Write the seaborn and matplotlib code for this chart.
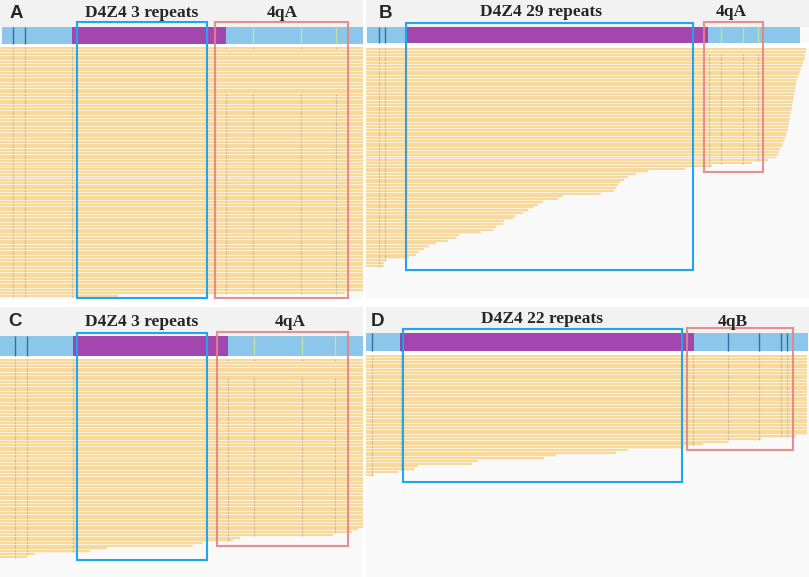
import pandas as pd
import matplotlib.pyplot as plt
import seaborn as sns
from matplotlib.patches import Rectangle

# ---- data: read end positions (panel-local position units), one per read row ----
a_read_end = [
    363, 363, 363, 363, 363, 363, 363, 363, 363, 363,
    363, 363, 363, 363, 363, 363, 363, 363, 363, 363,
    363, 363, 363, 363, 363, 363, 363, 363, 363, 363,
    363, 363, 363, 363, 363, 363, 363, 363, 363, 363,
    363, 363, 363, 363, 363, 363, 363, 363, 363, 363,
    363, 363, 363, 363, 363, 363, 363, 363, 363, 363,
    363, 363, 363, 363, 363, 363, 363, 363, 363, 363,
    363, 363, 363, 363, 363, 363, 363, 363, 363, 363,
    363, 363, 363, 363, 363, 363, 363, 363, 363, 345,
    118,
]
b_read_end = [
    440, 440, 439, 439, 438, 437,
    436, 435, 434, 433, 432,
    431, 430, 430, 429, 429, 428, 428, 427, 427, 426,
    426, 425, 425, 424, 424, 423, 423, 422, 422, 421,
    420, 419, 418, 417, 416, 414, 413, 412,
    410, 402, 386, 346, 319, 282,
    270, 262, 258, 254, 252, 250, 248,
    235, 197, 192, 177, 172, 168, 162, 157, 150, 147,
    138, 137, 130, 127, 115, 93, 90, 82, 70, 63,
    58, 53, 50, 43, 20, 18, 18,
]
c_read_end = [
    363, 363, 363, 363, 363, 363, 363, 363, 363, 363,
    363, 363, 363, 363, 363, 363, 363, 363, 363, 363,
    363, 363, 363, 363, 363, 363, 363, 363, 363, 363,
    363, 363, 363, 363, 363, 363, 363, 363, 363, 363,
    363, 363, 363, 363, 363, 363, 363, 363, 363, 363,
    363, 363, 363, 363, 363, 363, 363, 363, 363, 363,
    363, 363,
    358, 352, 333, 240, 233, 203, 193, 107, 90, 35, 27,
]
d_read_end = [
    441, 441, 441, 441, 441, 441, 441, 441, 441, 441,
    441, 441, 441, 441, 441, 441, 441, 441, 441, 441,
    441, 441, 441, 441, 441, 441, 441, 441, 441,
    430, 395, 362, 337, 318, 262, 250, 190, 178, 112,
    106, 52, 48, 32, 8,
]

# reference track: extent, D4Z4 array, variant sites
a_track = (2, 363); a_repeat = (72, 226); a_dark = [13, 25]; a_light = [253, 301, 336]
b_track = (1, 434); b_repeat = (39, 342); b_dark = [13, 19]; b_light = [355, 377, 392]
c_track = (0, 363); c_repeat = (73, 228); c_dark = [15, 27]; c_light = [254, 302, 335]
d_track = (0, 442); d_repeat = (34, 328); d_dark = [6, 35, 362, 393, 415, 421]; d_light = []

# mismatch sites in reads (proximal / distal), rows lacking distal calls
a_snp_left = [13, 25, 72]; a_snp_right = [226, 253, 301, 336]; a_skip = (1, 16)
b_snp_left = [13, 19, 40]; b_snp_right = [343, 355, 377, 392]; b_skip = (0, 1)
c_snp_left = [15, 27, 73]; c_snp_right = [228, 254, 302, 335]; c_skip = (1, 6)
d_snp_left = [6, 35]; d_snp_right = [327, 362, 393, 415, 421]; d_skip = (-1, -1)

# highlighted regions
a_blue = (77, 207); a_red = (215, 348)
b_blue = (40, 327); b_red = (338, 397)
c_blue = (77, 207); c_red = (217, 348)
d_blue = (37, 316); d_red = (321, 427)

panel_letters = ["A", "B", "C", "D"]
titles = ["D4Z4 3 repeats", "D4Z4 29 repeats", "D4Z4 3 repeats", "D4Z4 22 repeats"]
haplotypes = ["4qA", "4qA", "4qA", "4qB"]

# ---- style ----
sns.set_theme(style="white")
READ = "#f7d99c"
READ_GAP = "#fcf0da"
TRACK = "#8cc6ea"
PURPLE = "#a446b0"
DARK = "#32709e"
LIGHT = "#c4e2a4"
BLUE_BOX = "#1ea6ee"
RED_BOX = "#e28586"
SNP = "#8c8c8c"

W, H = 809, 577
fig = plt.figure(figsize=(W / 100, H / 100), dpi=100)
fig.patch.set_facecolor("white")


def draw_panel(ax, w, h, ends, track, repeat, dark, light, snp_l, snp_r, skip,
               blue, red, layout, letter, title, hap):
    ax.set_facecolor("#f9f9f9")
    ty0, ty1 = layout["track_y"]
    r0, r1 = layout["reads_y"]
    ax.axhspan(0, ty0, color="#f2f2f2", lw=0)
    ax.axhspan(ty1, r0, color="white", lw=0)

    n = len(ends)
    pitch = (r1 - r0) / n
    ypos = [r0 + pitch * (i + 0.5) for i in range(n)]
    df = pd.DataFrame({"end": ends, "ypos": ypos})
    # pale underlay so row separators look cream, then the reads themselves
    sns.barplot(data=df, x="end", y="ypos", orient="y", native_scale=True,
                color=READ_GAP, saturation=1, width=1.0, errorbar=None,
                linewidth=0, ax=ax)
    sns.barplot(data=df, x="end", y="ypos", orient="y", native_scale=True,
                color=READ, saturation=1, width=0.72, errorbar=None,
                linewidth=0, ax=ax)

    # mismatch calls
    mx, my = [], []
    for i, (e, y) in enumerate(zip(ends, ypos)):
        for p in snp_l:
            if p < e:
                mx.append(p); my.append(y)
        if skip[0] <= i <= skip[1]:
            continue
        for p in snp_r:
            if p < e:
                mx.append(p); my.append(y)
    ax.plot(mx, my, ls="none", marker="|", ms=1.1, mew=0.8, color=SNP, alpha=0.4)

    # reference track
    tc, th = (ty0 + ty1) / 2, ty1 - ty0
    ax.barh(tc, track[1] - track[0], left=track[0], height=th, color=TRACK, lw=0)
    ax.barh(tc, repeat[1] - repeat[0], left=repeat[0], height=th, color=PURPLE, lw=0)
    ax.vlines(dark, ty0, ty1, color=DARK, lw=1.0)
    ax.vlines(light, ty0, ty1, color=LIGHT, lw=1.0)

    by0, by1 = layout["blue_y"]
    ax.add_patch(Rectangle((blue[0], by0), blue[1] - blue[0], by1 - by0,
                           fill=False, ec=BLUE_BOX, lw=1.5))
    ry0, ry1 = layout["red_y"]
    ax.add_patch(Rectangle((red[0], ry0), red[1] - red[0], ry1 - ry0,
                           fill=False, ec=RED_BOX, lw=1.5, alpha=0.9))

    lx, ly = layout["letter"]
    ax.text(lx, ly, letter, ha="center", va="center", fontsize=13.5,
            fontweight="bold", family=["Liberation Sans", "DejaVu Sans"])
    tx, tyy = layout["title"]
    ax.text(tx, tyy, title, ha="center", va="center", fontsize=12.5,
            fontweight="bold", family=["Liberation Serif", "DejaVu Serif"])
    hx, hy = layout["hap"]
    ax.text(hx, hy, hap, ha="center", va="center", fontsize=12.5,
            fontweight="bold", family=["Liberation Serif", "DejaVu Serif"])

    ax.set_xlim(0, w)
    ax.set_ylim(h, 0)
    ax.set_xticks([]); ax.set_yticks([])
    ax.set_xlabel(""); ax.set_ylabel("")
    for s in ax.spines.values():
        s.set_visible(False)


panels = [
    dict(box=(0, 0, 363, 299), ends=a_read_end, track=a_track, repeat=a_repeat,
         dark=a_dark, light=a_light, snp_l=a_snp_left, snp_r=a_snp_right, skip=a_skip,
         blue=a_blue, red=a_red,
         layout=dict(track_y=(27, 44), reads_y=(47, 297), blue_y=(22, 298),
                     red_y=(22, 298), letter=(16, 14), title=(142, 13), hap=(282, 13))),
    dict(box=(366, 0, 443, 299), ends=b_read_end, track=b_track, repeat=b_repeat,
         dark=b_dark, light=b_light, snp_l=b_snp_left, snp_r=b_snp_right, skip=b_skip,
         blue=b_blue, red=b_red,
         layout=dict(track_y=(27, 43), reads_y=(48, 267), blue_y=(23, 270),
                     red_y=(22, 172), letter=(19, 14), title=(175, 12), hap=(365, 12))),
    dict(box=(0, 307, 363, 270), ends=c_read_end, track=c_track, repeat=c_repeat,
         dark=c_dark, light=c_light, snp_l=c_snp_left, snp_r=c_snp_right, skip=c_skip,
         blue=c_blue, red=c_red,
         layout=dict(track_y=(29, 49), reads_y=(52, 251), blue_y=(26, 253),
                     red_y=(25, 239), letter=(15, 15), title=(142, 15), hap=(290, 15))),
    dict(box=(366, 307, 443, 270), ends=d_read_end, track=d_track, repeat=d_repeat,
         dark=d_dark, light=d_light, snp_l=d_snp_left, snp_r=d_snp_right, skip=d_skip,
         blue=d_blue, red=d_red,
         layout=dict(track_y=(26, 44), reads_y=(48, 169), blue_y=(22, 175),
                     red_y=(21, 143), letter=(12, 15), title=(176, 12), hap=(367, 15))),
]

for p, letter, title, hap in zip(panels, panel_letters, titles, haplotypes):
    x0, y0, w, h = p["box"]
    ax = fig.add_axes([x0 / W, 1 - (y0 + h) / H, w / W, h / H])
    draw_panel(ax, w, h, p["ends"], p["track"], p["repeat"], p["dark"], p["light"],
               p["snp_l"], p["snp_r"], p["skip"], p["blue"], p["red"], p["layout"],
               letter, title, hap)

fig.savefig("out.png", dpi=100, facecolor="white")
